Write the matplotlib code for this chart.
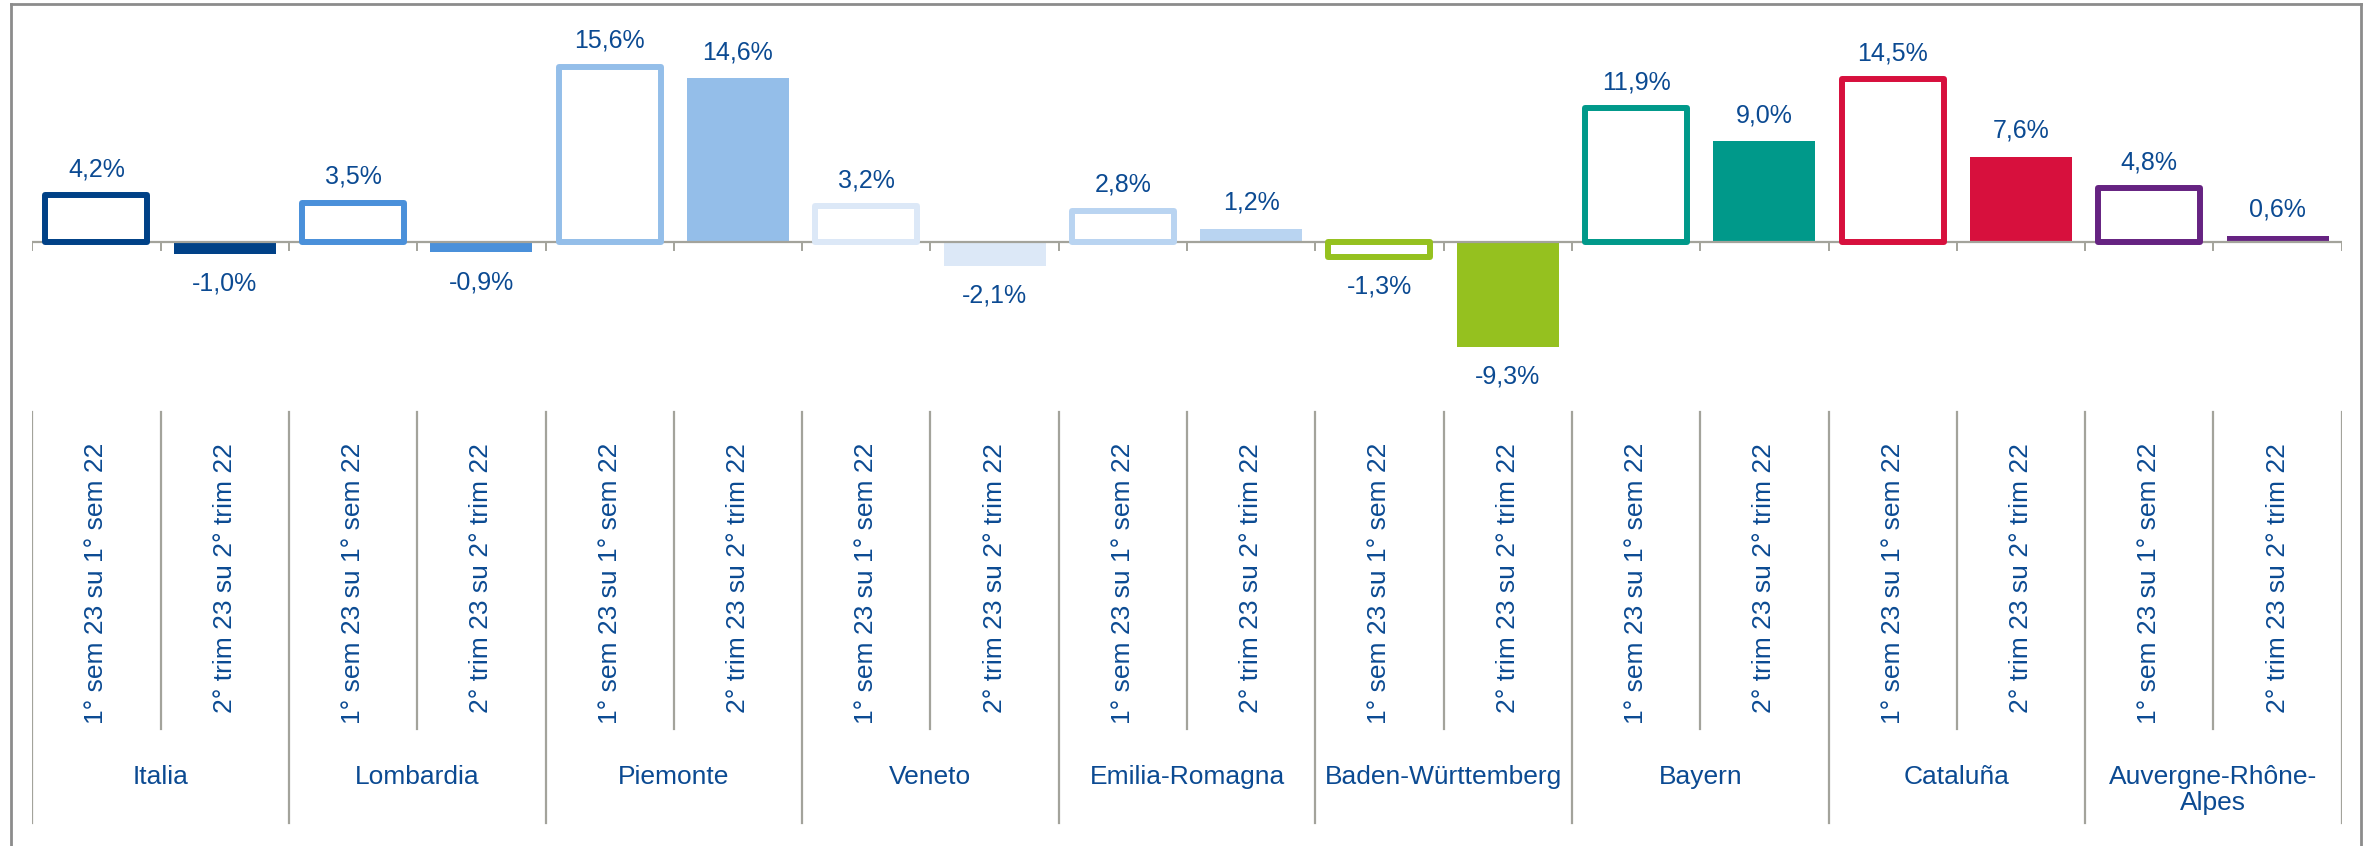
import matplotlib
matplotlib.use("Agg")
import matplotlib.pyplot as plt
from matplotlib.lines import Line2D

plt.rcParams['font.family'] = ['Liberation Sans', 'DejaVu Sans']

# data
regions = ['Italia', 'Lombardia', 'Piemonte', 'Veneto', 'Emilia-Romagna',
           'Baden-Württemberg', 'Bayern', 'Cataluña', 'Auvergne-Rhône-\nAlpes']
sem_vals = [4.2, 3.5, 15.6, 3.2, 2.8, -1.3, 11.9, 14.5, 4.8]     # 1° sem 23 su 1° sem 22
trim_vals = [-1.0, -0.9, 14.6, -2.1, 1.2, -9.3, 9.0, 7.6, 0.6]   # 2° trim 23 su 2° trim 22
sub_labels = ['1° sem 23 su 1° sem 22', '2° trim 23 su 2° trim 22']
colors = ['#004187', '#4A90DA', '#94BEE9', '#DCE8F7', '#B9D4F1',
          '#95C11F', '#00998A', '#D7103D', '#662382']

W, H = 2369, 846
txt_col = '#0B4A92'
line_col = '#A3A39B'

fig = plt.figure(figsize=(W / 100, H / 100), dpi=100)

# pixel layout helpers
x0_px, cat_px = 32.3, 128.3
zero_px, px_per = 242.3, 11.25
n = len(regions) * 2
ax = fig.add_axes([x0_px / W, 0, n * cat_px / W, 1])
ax.set_xlim(0, n)
ax.set_ylim(-(H - zero_px) / px_per, zero_px / px_per)
ax.axis('off')


def py(p):
    # figure pixel row (from top) -> data y
    return (zero_px - p) / px_per


bw = 0.795
xs_sem = [2 * i + 0.5 for i in range(len(regions))]
xs_trim = [2 * i + 1.5 for i in range(len(regions))]

# filled bars (below axis line)
ax.bar(xs_trim, trim_vals, width=bw, color=colors, zorder=2)
# zero line and ticks
ax.plot([0, n + 0.03], [0, 0], color=line_col, lw=1.6, zorder=3)
for k in range(n + 1):
    ax.plot([k, k], [0, py(250)], color=line_col, lw=1.4, zorder=3)
# outline bars
ax.bar(xs_sem, sem_vals, width=bw, facecolor='white', edgecolor=colors,
       linewidth=4.3, joinstyle='round', zorder=4)


def fmt(v):
    return f"{v:.1f}%".replace('.', ',')


for xs, vals in ((xs_sem, sem_vals), (xs_trim, trim_vals)):
    for x, v in zip(xs, vals):
        if v >= 0:
            ax.annotate(fmt(v), (x, v), xytext=(0, 19), textcoords='offset pixels',
                        ha='center', va='baseline', fontsize=18, color=txt_col)
        else:
            ax.annotate(fmt(v), (x, v), xytext=(0, -18), textcoords='offset pixels',
                        ha='center', va='top', fontsize=18, color=txt_col)

# category grid below chart
for k in range(n + 1):
    end = 823 if k % 2 == 0 else 729
    ax.plot([k, k], [py(411.7), py(end)], color=line_col, lw=1.6, zorder=1)

for i in range(len(regions)):
    for j, lab in enumerate(sub_labels):
        ax.text(2 * i + j + 0.5, py(443), lab, rotation=90, ha='center', va='top',
                fontsize=19, color=txt_col)
    ax.text(2 * i + 1, py(765), regions[i], ha='center', va='top', fontsize=19,
            color=txt_col, linespacing=1.12)

# outer frame
fl, ft, fr = 11 / W, 1 - 4.5 / H, 2361 / W
for xd, yd in (([fl, fr], [ft, ft]), ([fl, fl], [ft, 0]), ([fr, fr], [ft, 0])):
    fig.add_artist(Line2D(xd, yd, transform=fig.transFigure, color='#8C8C8C', lw=2))

fig.savefig('out.png', dpi=100)
